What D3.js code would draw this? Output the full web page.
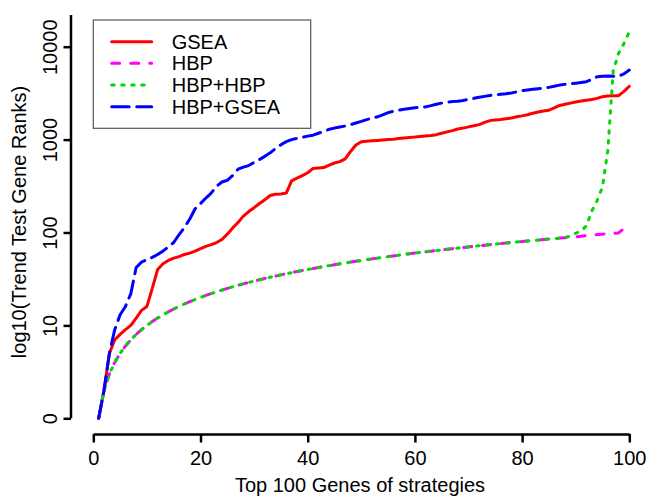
<!DOCTYPE html>
<html><head><meta charset="utf-8">
<script src="https://cdn.jsdelivr.net/npm/d3@7"></script>
<style>
body{margin:0;background:#fff}
text{font-family:"Liberation Sans",Arial,Helvetica,sans-serif;fill:#000}
</style>
</head><body>
<svg id="c" width="646" height="498"></svg>
<script>
const genes = [1,2,3,4,5,6,7,8,9,10,11,12,13,14,15,16,17,18,19,20,21,22,23,24,25,26,27,28,29,30,31,32,33,34,35,36,37,38,39,40,41,42,43,44,45,46,47,48,49,50,51,52,53,54,55,56,57,58,59,60,61,62,63,64,65,66,67,68,69,70,71,72,73,74,75,76,77,78,79,80,81,82,83,84,85,86,87,88,89,90,91,92,93,94,95,96,97,98,99,100];

const gsea = [1,2,5,7,8,9,10,12,14.5,16,
  25,40,46,50,53,55,58,60,63,67,
  71,74,78,84,96,112,128,150,168,185,
  205,225,250,258,260,266,360,385,410,440,
  490,495,500,530,560,580,620,745,875,950,
  960,970,980,990,1000,1010,1025,1040,1055,1065,
  1080,1095,1110,1130,1170,1210,1250,1300,1330,1370,
  1410,1450,1530,1600,1630,1650,1680,1710,1760,1800,
  1850,1920,1980,2030,2070,2200,2330,2400,2470,2540,
  2600,2650,2700,2780,2900,2950,2960,2970,3300,3750];

const hbp = [1,2,3,4,5,6,7,8,9,10,
  11,12,13,14,15,16,17,18,19,20,
  21,22,23,24,25,26,27,28,29,30,
  31,32,33,34,35,36,37,38,39,40,
  41,42,43,44,45,46,47,48,49,50,
  51,52,53,54,55,56,57,58,59,60,
  61,62,63,64,65,66,67,68,69,70,
  71,72,73,74,75,76,77,78,79,80,
  81,82,83,84,85,86,87,88,89,90,
  91,93,94,95,96,97,98,99,110,128];

const hbpHbp = [1,2,3,4,5,6,7,8,9,10,
  11,12,13,14,15,16,17,18,19,20,
  21,22,23,24,25,26,27,28,29,30,
  31,32,33,34,35,36,37,38,39,40,
  41,42,43,44,45,46,47,48,49,50,
  51,52,53,54,55,56,57,58,59,60,
  61,62,63,64,65,66,67,68,69,70,
  71,72,73,74,75,76,77,78,79,80,
  81,82,83,84,85,86,87,88,92,98,
  104,118,170,220,310,770,5500,8500,10800,14500];

const hbpGsea = [1,2,5,9,13,16,22,42,48,51,
  54,58,63,70,78,95,113,140,180,205,
  235,265,315,350,365,410,480,505,525,570,
  610,660,720,800,880,950,1000,1030,1060,1090,
  1115,1170,1230,1290,1330,1365,1400,1450,1510,1570,
  1640,1700,1760,1850,1950,2020,2070,2120,2160,2200,
  2230,2250,2320,2400,2470,2530,2570,2590,2640,2710,
  2780,2850,2920,2990,3040,3080,3120,3180,3260,3360,
  3420,3480,3530,3570,3650,3750,3860,3930,3990,4050,
  4120,4200,4450,4750,4820,4850,4800,4800,5100,5600];

const seriesNames = ["GSEA","HBP","HBP+HBP","HBP+GSEA"];
const seriesColors = ["#ff0000","#ff00ff","#00d800","#0000ff"];
const seriesDash = ["none","8,11","2.5,7.5","17.5,7.5"];
const seriesData = [gsea, hbp, hbpHbp, hbpGsea];

const xTickValues = [0,20,40,60,80,100];
const yTickValues = [1,10,100,1000,10000];
const yTickLabels = ["0","10","100","1000","10000"];

const svg = d3.select("#c");
const x = d3.scaleLinear().domain([0,100]).range([93.3,629.3]);
const y = d3.scaleLog().domain([1,10000]).range([418.3,46.7]);

// Y axis
const ya = svg.append("g").attr("transform","translate(71,0)")
  .call(d3.axisLeft(y).tickValues(yTickValues).tickFormat((d,i)=>yTickLabels[i]).tickSize(7.5).tickSizeOuter(0));
ya.select(".domain").remove();
ya.selectAll(".tick line").attr("stroke","#000").attr("stroke-width",2.5);
ya.selectAll(".tick text").attr("x",0).attr("dy",null).attr("y",0)
  .attr("text-anchor","middle").attr("font-size",20)
  .attr("transform","translate(-14.3,0) rotate(-90)");
svg.append("line").attr("x1",71).attr("x2",71).attr("y1",15).attr("y2",y(1))
  .attr("stroke","#000").attr("stroke-width",2.5);

// X axis
const xa = svg.append("g").attr("transform","translate(0,434)")
  .call(d3.axisBottom(x).tickValues(xTickValues).tickFormat(d3.format("d")).tickSize(8.5).tickSizeOuter(0));
xa.select(".domain").attr("stroke","#000").attr("stroke-width",2.5);
xa.selectAll(".tick line").attr("stroke","#000").attr("stroke-width",2.5);
xa.selectAll(".tick text").attr("y",31).attr("dy",null).attr("font-size",20);

// Axis titles
svg.append("text").attr("x",360).attr("y",492).attr("text-anchor","middle")
  .attr("font-size",20).text("Top 100 Genes of strategies");
svg.append("text").attr("transform","translate(26,222) rotate(-90)").attr("text-anchor","middle")
  .attr("font-size",20).text("log10(Trend Test Gene Ranks)");

// Lines
const line = d3.line().x((d,i)=>x(genes[i])).y(d=>y(d));
seriesData.forEach((data,k)=>{
  svg.append("path").datum(data).attr("d",line)
    .attr("fill","none").attr("stroke",seriesColors[k]).attr("stroke-width",3)
    .attr("stroke-linecap","round").attr("stroke-linejoin","round")
    .attr("stroke-dasharray",seriesDash[k]==="none"?null:seriesDash[k]);
});

// Legend
const lg = svg.append("g");
lg.append("rect").attr("x",93.3).attr("y",20).attr("width",217.4).attr("height",108.3)
  .attr("fill","#fff").attr("stroke","#555").attr("stroke-width",1.2);
const rowY = [41.7,63.3,85,106.7];
seriesNames.forEach((n,k)=>{
  lg.append("line").attr("x1",111.7).attr("x2",151.7).attr("y1",rowY[k]).attr("y2",rowY[k])
    .attr("stroke",seriesColors[k]).attr("stroke-width",3).attr("stroke-linecap","round")
    .attr("stroke-dasharray",seriesDash[k]==="none"?null:seriesDash[k]);
  lg.append("text").attr("x",171.7).attr("y",rowY[k]+7).attr("font-size",20).text(n);
});
</script>
</body></html>
